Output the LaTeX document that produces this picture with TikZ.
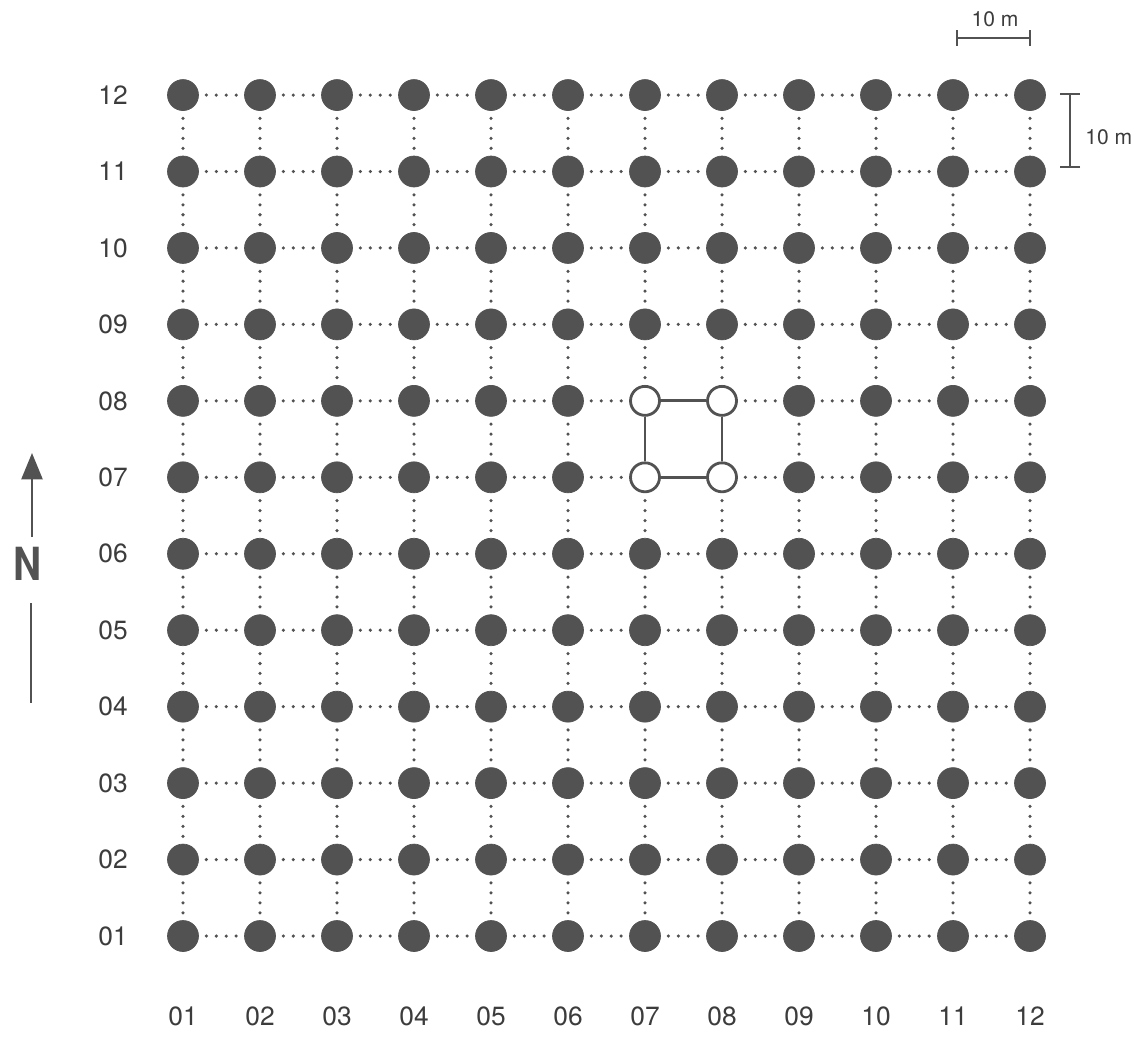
\documentclass[tikz,border=0pt]{standalone}
\usepackage{fontspec}
\setmainfont{TeX Gyre Heros}
\usetikzlibrary{arrows.meta}
\definecolor{ptgray}{RGB}{82,82,82}
\definecolor{txtgray}{RGB}{60,60,60}
\tikzset{
  pt/.style={circle, inner sep=0pt, minimum size=0.62cm, fill=ptgray, draw=ptgray},
  hollow/.style={circle, inner sep=0pt, minimum size=0.58cm, fill=white, draw=ptgray, line width=1.6pt},
  dots/.style={ptgray, line width=2pt, line cap=round, dash pattern=on 0pt off 5.67pt, dash phase=1.42pt},
  solidlink/.style={ptgray, line width=1.6pt},
  lbl/.style={text=txtgray, font=\fontsize{15}{18}\selectfont, inner sep=0pt},
  small/.style={text=txtgray, font=\fontsize{12}{14}\selectfont, inner sep=0pt},
  bar/.style={ptgray, line width=1.3pt},
}
\begin{document}
\begin{tikzpicture}[x=0.02cm, y=-0.02cm]
\useasboundingbox (0,0) rectangle (1138,1036);
% grid nodes
\foreach \i in {1,...,12} {
  \foreach \j in {1,...,12} {
    \pgfmathsetmacro\xx{183+(\i-1)*77.0}
    \pgfmathsetmacro\yy{936-(\j-1)*76.45}
    \pgfmathtruncatemacro\hol{and(or(\i==7,\i==8),or(\j==7,\j==8))}
    \ifnum\hol=1
      \node[hollow] (n-\i-\j) at (\xx,\yy) {};
    \else
      \node[pt] (n-\i-\j) at (\xx,\yy) {};
    \fi
  }
}
% horizontal links
\foreach \j in {1,...,12} {
  \foreach \i in {1,...,11} {
    \pgfmathtruncatemacro\k{\i+1}
    \pgfmathtruncatemacro\sp{and(\i==7,or(\j==7,\j==8))}
    \ifnum\sp=1
      \draw[solidlink] (n-\i-\j) -- (n-\k-\j);
    \else
      \draw[dots] (n-\i-\j) -- (n-\k-\j);
    \fi
  }
}
% vertical links
\foreach \i in {1,...,12} {
  \foreach \j in {1,...,11} {
    \pgfmathtruncatemacro\k{\j+1}
    \pgfmathtruncatemacro\sp{and(\j==7,or(\i==7,\i==8))}
    \ifnum\sp=1
      \draw[solidlink] (n-\i-\j) -- (n-\i-\k);
    \else
      \draw[dots] (n-\i-\k) -- (n-\i-\j);
    \fi
  }
}
% labels
\foreach \j in {1,...,12} {
  \pgfmathsetmacro\yy{936-(\j-1)*76.45}
  \node[lbl] (r-\j) at (113,\yy) {\ifnum\j<10 0\fi\j};
}
\foreach \i in {1,...,12} {
  \pgfmathsetmacro\xx{183+(\i-1)*77.0}
  \node[lbl] (c-\i) at (\xx,1016) {\ifnum\i<10 0\fi\i};
}
% scale bars
\coordinate (sb1) at (956,38);
\coordinate (sb2) at (1031,38);
\draw[bar, {Bar[width=9pt]}-{Bar[width=9pt]}] (sb1) -- (sb2);
\node[small] (sbl) at (995,19) {10 m};
\coordinate (sv1) at (1070,93);
\coordinate (sv2) at (1070,168);
\draw[bar, {Bar[width=11.5pt]}-{Bar[width=11.5pt]}] (sv1) -- (sv2);
\node[small, anchor=west] (svl) at (1085,137) {10 m};
% north arrow
\node[text=ptgray, font=\fontsize{26}{28}\selectfont\bfseries, inner sep=0pt, xscale=0.85] (N) at (28,564) {N};
\coordinate (na1) at (32,537);
\coordinate (na2) at (32,453);
\draw[bar, -{Triangle[length=15pt, width=12pt]}] (na1) -- (na2);
\coordinate (nb1) at (31,603);
\coordinate (nb2) at (31,703);
\draw[bar] (nb1) -- (nb2);
\end{tikzpicture}
\end{document}
